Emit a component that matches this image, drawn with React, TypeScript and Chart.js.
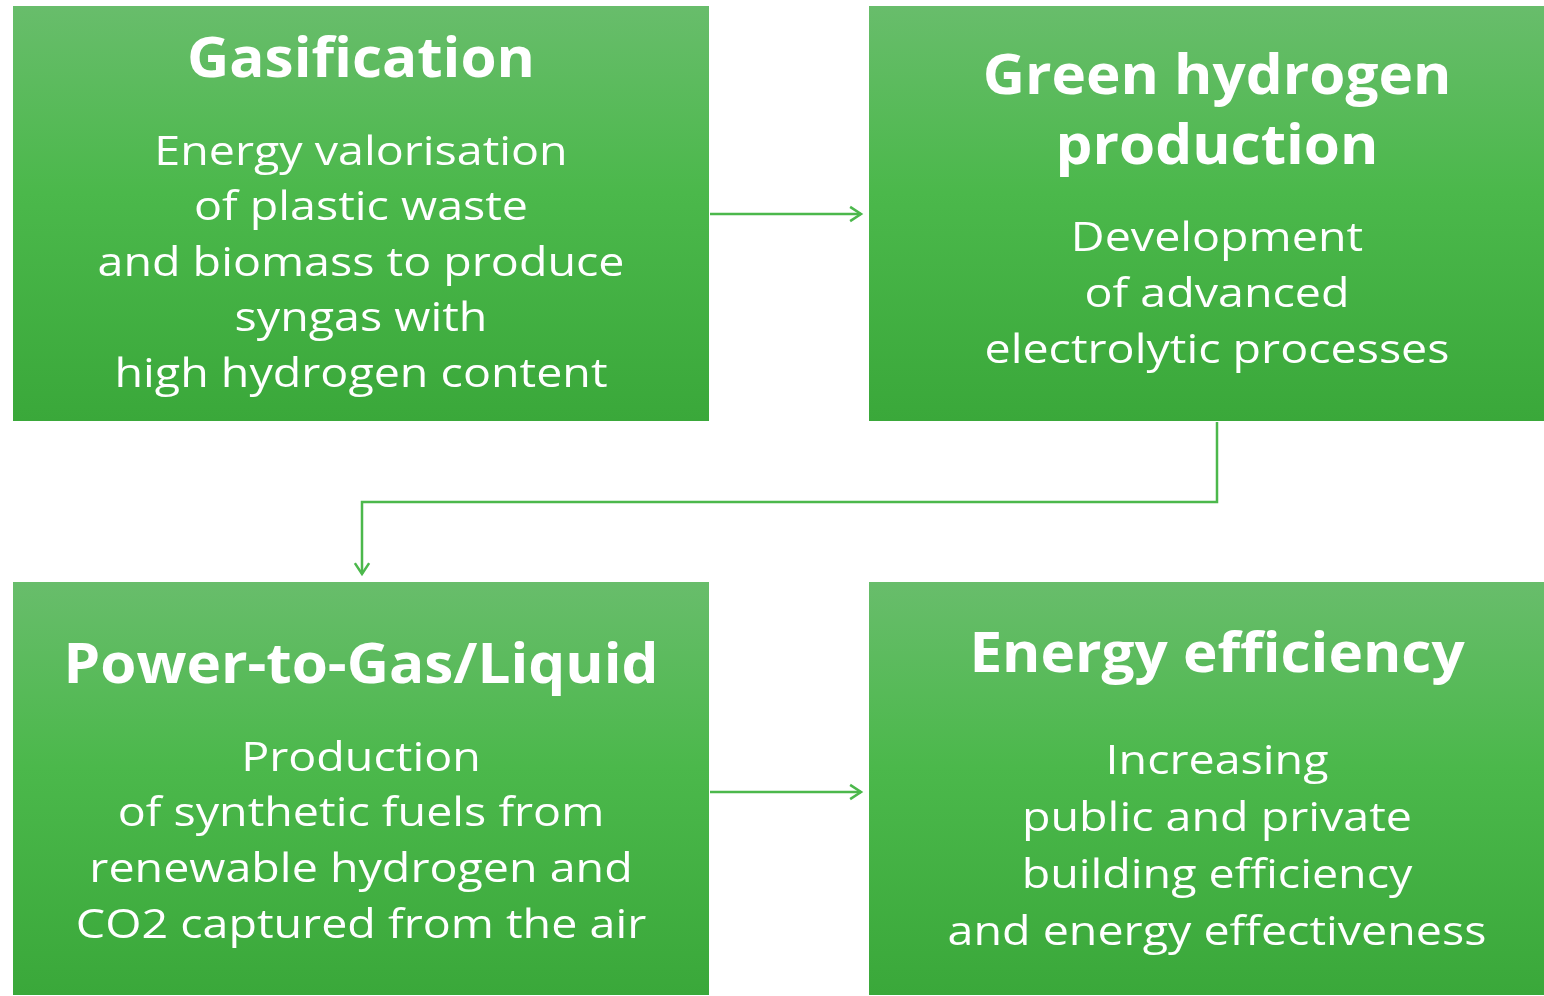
import React, { useEffect, useRef } from "react";
import { Chart, registerables } from "chart.js";

Chart.register(...registerables);

// ---- Data ----
const boxTitles: string[][] = [
  ["Gasification"],
  ["Green hydrogen", "production"],
  ["Power-to-Gas/Liquid"],
  ["Energy efficiency"],
];
const boxDescriptions: string[][] = [
  ["Energy valorisation", "of plastic waste", "and biomass to produce", "syngas with", "high hydrogen content"],
  ["Development", "of advanced", "electrolytic processes"],
  ["Production", "of synthetic fuels from", "renewable hydrogen and", "CO2 captured from the air"],
  ["Increasing", "public and private", "building efficiency", "and energy effectiveness"],
];

// box extents in diagram units (x: 0..1544, y: 0..996, y downward)
const boxLeft = [13, 869, 13, 869];
const boxRight = [709, 1565, 709, 1565];
const boxTop = [6, 6, 582, 582];
const boxBottom = [421, 421, 995, 995];

// text layout (diagram units)
const textCenterX = [361, 1217, 361, 1217];
const titleFirstY = [61, 78, 667, 656];
const titleStep = [70, 70, 70, 70];
const bodyFirstY = [153, 239, 759, 762];
const bodyStep = [55.6, 56, 55.7, 57];

// connectors: polylines [x[], y[]]
const arrow1X = [710, 861];
const arrow1Y = [214, 214];
const arrow2X = [1217, 1217, 362, 362];
const arrow2Y = [422, 502, 502, 574];
const arrow3X = [710, 861];
const arrow3Y = [792, 792];

const LINE_COLOR = "#4cb84c";
const FONT = "'Open Sans', 'Liberation Sans', sans-serif";

const toPts = (xs: number[], ys: number[]) => xs.map((x, i) => ({ x, y: ys[i] }));

export default function App() {
  const ref = useRef<HTMLCanvasElement>(null);
  useEffect(() => {
    document.body.style.margin = "0";
    const canvas = ref.current!;
    const boxesPlugin = {
      id: "boxes",
      beforeDatasetsDraw(chart: any) {
        const { ctx, scales } = chart;
        const sx = scales.x, sy = scales.y;
        for (let i = 0; i < boxLeft.length; i++) {
          const x0 = sx.getPixelForValue(boxLeft[i]);
          const x1 = sx.getPixelForValue(boxRight[i]);
          const y0 = sy.getPixelForValue(boxTop[i]);
          const y1 = sy.getPixelForValue(boxBottom[i]);
          const g = ctx.createLinearGradient(0, y0, 0, y1);
          g.addColorStop(0, "#68bd6b");
          g.addColorStop(0.45, "#4bb84b");
          g.addColorStop(1, "#3aa83a");
          ctx.save();
          ctx.fillStyle = g;
          ctx.fillRect(x0, y0, x1 - x0, y1 - y0);
          ctx.restore();
        }
      },
      afterDatasetsDraw(chart: any) {
        const { ctx, scales } = chart;
        const sx = scales.x, sy = scales.y;
        ctx.save();
        ctx.fillStyle = "#ffffff";
        ctx.textAlign = "center";
        ctx.textBaseline = "middle";
        // titles
        ctx.font = `bold 55px ${FONT}`;
        const titleScale = 348 / ctx.measureText("Gasification").width;
        for (let i = 0; i < boxTitles.length; i++) {
          boxTitles[i].forEach((t, j) => {
            const cx = sx.getPixelForValue(textCenterX[i]);
            const cy = sy.getPixelForValue(titleFirstY[i] + j * titleStep[i]);
            ctx.save();
            ctx.translate(cx, cy);
            ctx.scale(titleScale, 1);
            ctx.fillText(t, 0, 0);
            ctx.restore();
          });
        }
        // bodies
        ctx.font = `400 41px ${FONT}`;
        const bodyScale = 527 / ctx.measureText("and biomass to produce").width;
        for (let i = 0; i < boxDescriptions.length; i++) {
          boxDescriptions[i].forEach((t, j) => {
            const cx = sx.getPixelForValue(textCenterX[i]);
            const cy = sy.getPixelForValue(bodyFirstY[i] + j * bodyStep[i]);
            ctx.save();
            ctx.translate(cx, cy);
            ctx.scale(bodyScale, 1);
            ctx.fillText(t, 0, 0);
            ctx.restore();
          });
        }
        // arrowheads (open chevrons)
        ctx.strokeStyle = LINE_COLOR;
        ctx.lineWidth = 2.5;
        const heads = [
          { xs: arrow1X, ys: arrow1Y },
          { xs: arrow2X, ys: arrow2Y },
          { xs: arrow3X, ys: arrow3Y },
        ];
        heads.forEach(({ xs, ys }) => {
          const n = xs.length;
          const tx = sx.getPixelForValue(xs[n - 1]);
          const ty = sy.getPixelForValue(ys[n - 1]);
          const px = sx.getPixelForValue(xs[n - 2]);
          const py = sy.getPixelForValue(ys[n - 2]);
          const ang = Math.atan2(ty - py, tx - px);
          const len = 13;
          const spread = 0.58;
          ctx.beginPath();
          ctx.moveTo(tx - len * Math.cos(ang - spread), ty - len * Math.sin(ang - spread));
          ctx.lineTo(tx, ty);
          ctx.lineTo(tx - len * Math.cos(ang + spread), ty - len * Math.sin(ang + spread));
          ctx.stroke();
        });
        ctx.restore();
      },
    };

    const lineDs = (xs: number[], ys: number[]) => ({
      data: toPts(xs, ys),
      showLine: true,
      borderColor: LINE_COLOR,
      borderWidth: 2.5,
      pointRadius: 0,
      fill: false,
      tension: 0,
    });

    const chart = new Chart(canvas, {
      type: "scatter",
      data: {
        datasets: [
          lineDs(arrow1X, arrow1Y),
          lineDs(arrow2X, arrow2Y),
          lineDs(arrow3X, arrow3Y),
        ],
      },
      options: {
        animation: false,
        responsive: false,
        maintainAspectRatio: false,
        layout: { padding: 0 },
        plugins: { legend: { display: false }, tooltip: { enabled: false } },
        scales: {
          x: { type: "linear", min: 0, max: 1544, display: false },
          y: { type: "linear", min: 0, max: 996, reverse: true, display: false },
        },
      },
      plugins: [boxesPlugin],
    } as any);
    return () => chart.destroy();
  }, []);

  return (
    <div style={{ position: "absolute", left: 0, top: 0, width: 1544, height: 996, background: "#fff" }}>
      <canvas ref={ref} width={1544} height={996} style={{ width: 1544, height: 996, display: "block" }} />
    </div>
  );
}
